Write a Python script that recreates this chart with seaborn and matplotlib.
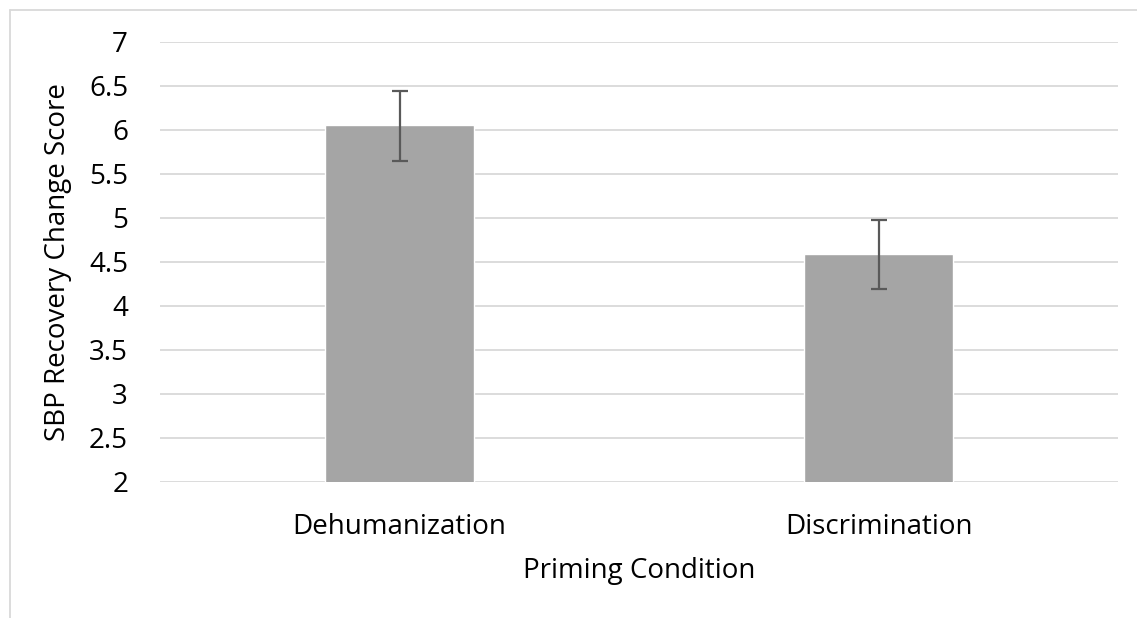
import numpy as np
import pandas as pd
import matplotlib
matplotlib.use("Agg")
import matplotlib.pyplot as plt
import seaborn as sns
from matplotlib.lines import Line2D

# data
conditions = ["Dehumanization", "Discrimination"]
means = [6.06, 4.59]
err_low = [5.65, 4.19]
err_high = [6.44, 4.98]
y_ticks = [2, 2.5, 3, 3.5, 4, 4.5, 5, 5.5, 6, 6.5, 7]

df = pd.DataFrame({"Priming Condition": conditions, "Score": means})

sns.set_style("white")
plt.rcParams["font.family"] = ["Open Sans", "DejaVu Sans"]
plt.rcParams["text.color"] = "black"
plt.rcParams["axes.labelcolor"] = "black"

W, H = 1137, 618
fig = plt.figure(figsize=(W / 100, H / 100), dpi=100)
ax = fig.add_axes([160 / W, (H - 482) / H, (1118 - 160) / W, (482 - 42) / H])

sns.barplot(data=df, x="Priming Condition", y="Score", color="#A5A5A5",
            saturation=1, width=0.31, errorbar=None, ax=ax, zorder=3)

x = np.arange(len(conditions))
yerr = [np.array(means) - np.array(err_low), np.array(err_high) - np.array(means)]
ax.errorbar(x, means, yerr=yerr, fmt="none", ecolor="#595959",
            elinewidth=1.6, capsize=6, capthick=1.6, zorder=4)

ax.set_ylim(2, 7)
ax.set_xlim(-0.5, 1.5)
ax.set_yticks(y_ticks)
ax.set_yticklabels([f"{t:g}" for t in y_ticks])
ax.yaxis.grid(True, color="#D9D9D9", linewidth=1.3, zorder=0)
ax.set_axisbelow(True)
for s in ax.spines.values():
    s.set_visible(False)
ax.tick_params(axis="both", length=0, labelsize=20, colors="black")
ax.tick_params(axis="x", pad=22)
ax.tick_params(axis="y", pad=23)
ax.set_xlabel("Priming Condition", fontsize=20, labelpad=12)
ax.set_ylabel("SBP Recovery Change Score", fontsize=20, labelpad=12)

# chart border (light gray, Excel style)
fig.add_artist(Line2D([9.5 / W, 9.5 / W], [0, 1 - 10 / H], color="#D9D9D9",
                      linewidth=1.3, transform=fig.transFigure))
fig.add_artist(Line2D([9.5 / W, 1.0], [1 - 10 / H, 1 - 10 / H], color="#D9D9D9",
                      linewidth=1.3, transform=fig.transFigure))

fig.savefig("out.png", dpi=100, facecolor="white")
